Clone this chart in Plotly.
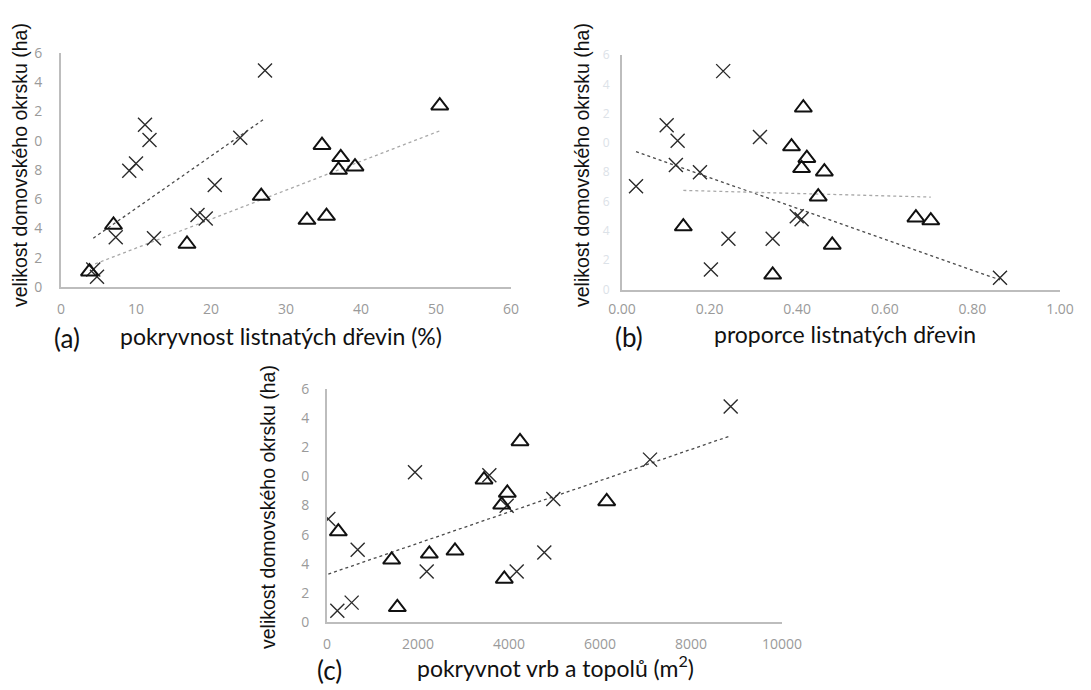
import numpy as np
import plotly.graph_objects as go

# ---------------- data ----------------
# Panel (a): pokryvnost listnatých dřevin (%)
a_cross_x = [27.2, 11.2, 11.8, 23.9, 10.0, 9.1, 20.5, 18.2, 19.3, 7.3, 12.4, 4.3, 4.8]
a_cross_y = [14.8, 11.1, 10.05, 10.2, 8.45, 7.95, 6.97, 4.92, 4.69, 3.4, 3.33, 1.2, 0.7]
a_tri_x = [50.5, 34.8, 37.3, 39.2, 37.0, 26.7, 32.8, 35.4, 16.8, 7.0, 3.8]
a_tri_y = [12.4, 9.7, 8.87, 8.23, 8.0, 6.22, 4.58, 4.85, 2.94, 4.24, 1.05]

# Panel (b): proporce listnatých dřevin
b_cross_x = [0.231, 0.102, 0.127, 0.315, 0.123, 0.178, 0.032, 0.399, 0.410, 0.243, 0.344, 0.203, 0.863]
b_cross_y = [14.9, 11.2, 10.15, 10.4, 8.5, 8.0, 7.05, 5.0, 4.8, 3.46, 3.46, 1.37, 0.8]
b_tri_x = [0.414, 0.387, 0.422, 0.410, 0.462, 0.448, 0.140, 0.480, 0.344, 0.671, 0.705]
b_tri_y = [12.4, 9.75, 8.96, 8.27, 8.04, 6.33, 4.29, 3.04, 1.0, 4.9, 4.7]

# Panel (c): pokryvnot vrb a topolů (m2)
c_cross_x = [29, 674, 1934, 3568, 3949, 2191, 4169, 227, 542, 4776, 4974, 7099, 8872]
c_cross_y = [7.07, 4.96, 10.28, 10.07, 7.98, 3.46, 3.46, 0.78, 1.33, 4.77, 8.44, 11.15, 14.8]
c_tri_x = [4242, 3451, 3963, 3839, 249, 1421, 2249, 2813, 3897, 1546, 6147]
c_tri_y = [12.4, 9.77, 8.86, 8.05, 6.21, 4.27, 4.68, 4.89, 2.96, 1.01, 8.28]

# y tick values and the (clipped) tick labels as they appear
y_tickvals = [0, 2, 4, 6, 8, 10, 12, 14, 16]
y_ticktext = ["0", "2", "4", "6", "8", "0", "2", "4", "6"]
a_xticks = [0, 10, 20, 30, 40, 50, 60]
b_xticks = [0.0, 0.2, 0.4, 0.6, 0.8, 1.0]
b_xticktext = ["0.00", "0.20", "0.40", "0.60", "0.80", "1.00"]
c_xticks = [0, 2000, 4000, 6000, 8000, 10000]
c_xticktext = ["0", "2000", "4000", "6000", "8000", "10000"]

y_title = "velikost domovského okrsku (ha)"

W, H = 1091, 690

fig = go.Figure()

cross_marker = dict(symbol="x-thin-open", size=14, color="#2b2b2b",
                    line=dict(width=1.4, color="#2b2b2b"))
tri_marker = dict(symbol="triangle-up-open", size=15, color="#111111",
                  line=dict(width=2, color="#111111"))


def trend(xs, ys):
    k, q = np.polyfit(xs, ys, 1)
    x0, x1 = min(xs), max(xs)
    return [x0, x1], [k * x0 + q, k * x1 + q]


def add_panel(xs_c, ys_c, xs_t, ys_t, xa, ya, tri_line=True):
    tx, ty = trend(xs_c, ys_c)
    fig.add_trace(go.Scatter(x=tx, y=ty, mode="lines", xaxis=xa, yaxis=ya,
                             line=dict(color="#4a4a4a", width=1.3, dash="dot"),
                             showlegend=False, hoverinfo="skip"))
    if tri_line:
        tx2, ty2 = trend(xs_t, ys_t)
        fig.add_trace(go.Scatter(x=tx2, y=ty2, mode="lines", xaxis=xa, yaxis=ya,
                                 line=dict(color="#a8a8a8", width=1.3, dash="dot"),
                                 showlegend=False, hoverinfo="skip"))
    fig.add_trace(go.Scatter(x=xs_c, y=ys_c, mode="markers", xaxis=xa, yaxis=ya,
                             marker=cross_marker, showlegend=False))
    fig.add_trace(go.Scatter(x=xs_t, y=ys_t, mode="markers", xaxis=xa, yaxis=ya,
                             marker=tri_marker, showlegend=False))


add_panel(a_cross_x, a_cross_y, a_tri_x, a_tri_y, "x", "y")
add_panel(b_cross_x, b_cross_y, b_tri_x, b_tri_y, "x2", "y2")
add_panel(c_cross_x, c_cross_y, c_tri_x, c_tri_y, "x3", "y3", tri_line=False)

tick_font = dict(family="Open Sans", size=14, color="#9a9a9a")
axis_common = dict(showgrid=False, zeroline=False, showline=True, automargin=False,
                   linecolor="#bdbdbd", linewidth=2, ticks="")


def px_x(p):
    return p / W


def px_y(p):
    return 1 - p / H


fig.update_layout(
    template="none",
    width=W, height=H, autosize=False,
    margin=dict(l=0, r=0, t=0, b=0, pad=0),
    paper_bgcolor="white", plot_bgcolor="white",
    xaxis=dict(domain=[px_x(61), px_x(511)], range=[0, 60], tickvals=a_xticks,
               anchor="y", ticklabelstandoff=8, tickfont=tick_font, **axis_common),
    yaxis=dict(domain=[px_y(287), px_y(53)], range=[0, 16], tickvals=y_tickvals,
               ticktext=y_ticktext, anchor="x", ticklabelstandoff=14,
               tickfont=tick_font, **axis_common),
    xaxis2=dict(domain=[px_x(622), px_x(1060)], range=[0, 1], tickvals=b_xticks,
                ticktext=b_xticktext, anchor="y2", ticklabelstandoff=6,
                tickfont=tick_font, **axis_common),
    yaxis2=dict(domain=[px_y(289.5), px_y(55)], range=[0, 16], tickvals=y_tickvals,
                ticktext=y_ticktext, anchor="x2", ticklabelstandoff=8,
                tickfont=dict(family="Open Sans", size=12, color="#dce2e8"), **axis_common),
    xaxis3=dict(domain=[px_x(327), px_x(782)], range=[0, 10000], tickvals=c_xticks,
                ticktext=c_xticktext, anchor="y3", ticklabelstandoff=8,
                tickfont=tick_font, **axis_common),
    yaxis3=dict(domain=[px_y(622), px_y(389)], range=[0, 16], tickvals=y_tickvals,
                ticktext=y_ticktext, anchor="x3", ticklabelstandoff=13,
                tickfont=tick_font, **axis_common),
)

title_font = dict(family="Lato", size=23, color="#111111")
label_font = dict(family="Lato", size=26, color="#111111")
ytitle_font = dict(family="Liberation Sans", size=19.5, color="#111111")

annots = [
    # panel (a)
    dict(text="(a)", x=px_x(67), y=px_y(338), font=label_font),
    dict(text="pokryvnost listnatých dřevin (%)", x=px_x(281), y=px_y(336), font=title_font),
    dict(text=y_title, x=px_x(20), y=px_y(165), textangle=-90, font=ytitle_font),
    # panel (b)
    dict(text="(b)", x=px_x(629), y=px_y(337), font=label_font),
    dict(text="proporce listnatých dřevin", x=px_x(845), y=px_y(334), font=title_font),
    dict(text=y_title, x=px_x(582), y=px_y(165), textangle=-90, font=ytitle_font),
    # panel (c)
    dict(text="(c)", x=px_x(329), y=px_y(670), font=label_font),
    dict(text="pokryvnot vrb a topolů (m<sup>2</sup>)", x=px_x(555), y=px_y(666), font=title_font),
    dict(text=y_title, x=px_x(268), y=px_y(507), textangle=-90, font=ytitle_font),
]
for a in annots:
    a.update(xref="paper", yref="paper", showarrow=False, xanchor="center", yanchor="middle")
fig.update_layout(annotations=annots)

fig.write_html("out.html", post_script="document.body.style.margin='0px';")
